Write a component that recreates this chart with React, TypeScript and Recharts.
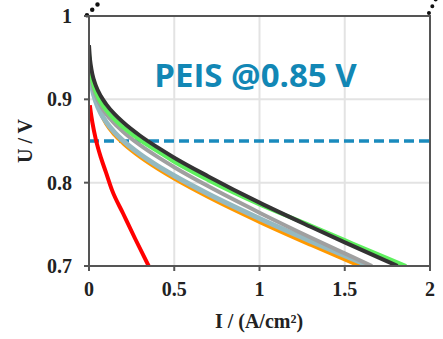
import { LineChart, Line, XAxis, YAxis, CartesianGrid, ReferenceLine, ReferenceArea } from 'recharts';

// current density (A/cm²) and cell voltage (V) per curve
const darkI = [0, 0.005, 0.01, 0.02, 0.04, 0.07, 0.1, 0.15, 0.2, 0.3, 0.4, 0.5, 0.7, 1.0, 1.3, 1.5, 1.7, 1.81];
const darkU = [0.965, 0.95, 0.9415, 0.93, 0.9165, 0.9036, 0.8943, 0.8822, 0.8725, 0.8563, 0.8426, 0.83, 0.8075, 0.776, 0.7471, 0.7284, 0.71, 0.7];

const greenI = [0, 0.005, 0.01, 0.02, 0.04, 0.07, 0.1, 0.15, 0.2, 0.3, 0.4, 0.5, 0.7, 1.0, 1.3, 1.5, 1.7, 1.86];
const greenU = [0.955, 0.9408, 0.9324, 0.9215, 0.9084, 0.8959, 0.887, 0.8756, 0.8664, 0.851, 0.838, 0.825, 0.803, 0.774, 0.7485, 0.731, 0.7136, 0.7];

const greyI = [0, 0.005, 0.01, 0.02, 0.04, 0.07, 0.1, 0.15, 0.2, 0.3, 0.4, 0.5, 0.7, 1.0, 1.3, 1.5, 1.66];
const greyU = [0.952, 0.9377, 0.9292, 0.9181, 0.9046, 0.892, 0.8827, 0.8709, 0.8612, 0.845, 0.8312, 0.8186, 0.7956, 0.764, 0.7342, 0.7151, 0.7];

const blueI = [0, 0.005, 0.01, 0.02, 0.04, 0.07, 0.1, 0.15, 0.2, 0.3, 0.4, 0.5, 0.7, 1.0, 1.3, 1.645];
const blueU = [0.951, 0.9345, 0.9247, 0.912, 0.897, 0.883, 0.873, 0.8604, 0.8504, 0.834, 0.8204, 0.8083, 0.7864, 0.757, 0.7298, 0.7];

const orangeI = [0, 0.005, 0.01, 0.02, 0.04, 0.07, 0.1, 0.15, 0.2, 0.3, 0.4, 0.5, 0.7, 1.0, 1.3, 1.5, 1.59];
const orangeU = [0.948, 0.935, 0.928, 0.915, 0.899, 0.883, 0.871, 0.8575, 0.8474, 0.831, 0.8173, 0.805, 0.7828, 0.753, 0.7255, 0.7078, 0.7];

const redI = [0.005, 0.01, 0.02, 0.04, 0.07, 0.1, 0.135, 0.2, 0.27, 0.35];
const redU = [0.893, 0.885, 0.872, 0.852, 0.83, 0.812, 0.791, 0.763, 0.733, 0.7];

const xTicks = [0, 0.5, 1, 1.5, 2];
const yTicks = [0.7, 0.8, 0.9, 1];
const peisVoltage = 0.85;

const toPoints = (xs: number[], ys: number[]) => xs.map((i, k) => ({ i, u: ys[k] }));

const series = [
  { name: 'orange', color: '#ff9900', width: 4, data: toPoints(orangeI, orangeU) },
  { name: 'blue', color: '#95b9c0', width: 5, data: toPoints(blueI, blueU) },
  { name: 'grey', color: '#a0a0a0', width: 4, data: toPoints(greyI, greyU) },
  { name: 'green', color: '#5ef05e', width: 4, data: toPoints(greenI, greenU) },
  { name: 'dark', color: '#333333', width: 4, data: toPoints(darkI, darkU) },
  { name: 'red', color: '#ff0000', width: 4, data: toPoints(redI, redU) },
];

const serif = '"Liberation Serif", "Times New Roman", serif';
const tickStyle = { fontFamily: serif, fontWeight: 700, fontSize: 20, fill: '#222' };

export default function App() {
  return (
    <div style={{ position: 'absolute', left: 0, top: 0, background: '#fff' }}>
      <LineChart width={443} height={339} margin={{ top: 16, right: 13, left: 0, bottom: 0 }}>
        <CartesianGrid stroke="#e3e3e3" strokeWidth={2} />
        <XAxis
          type="number"
          dataKey="i"
          domain={[0, 2]}
          ticks={xTicks}
          allowDataOverflow
          height={73}
          tickSize={5}
          tickMargin={11}
          tick={tickStyle}
          axisLine={{ stroke: '#555', strokeWidth: 2 }}
          tickLine={{ stroke: '#555', strokeWidth: 2 }}
          label={() => (
            <text x={259} y={328} textAnchor="middle" style={{ fontFamily: serif, fontWeight: 700, fontSize: 20, fill: '#222' }}>
              I / (A/cm²)
            </text>
          )}
        />
        <YAxis
          type="number"
          dataKey="u"
          domain={[0.7, 1]}
          ticks={yTicks}
          allowDataOverflow
          width={89}
          tickSize={5}
          tickMargin={12}
          tick={tickStyle}
          axisLine={{ stroke: '#555', strokeWidth: 2 }}
          tickLine={{ stroke: '#555', strokeWidth: 2 }}
          label={() => (
            <text
              x={25}
              y={141}
              transform="rotate(-90 25 141)"
              textAnchor="middle"
              dominantBaseline="central"
              style={{ fontFamily: serif, fontWeight: 700, fontSize: 20, fill: '#222' }}
            >
              U / V
            </text>
          )}
        />
        <ReferenceArea
          x1={0}
          x2={2}
          y1={0.7}
          y2={1}
          fill="none"
          fillOpacity={0}
          stroke="#555"
          strokeWidth={2}
          label={(props: any) => {
            const vb = props.viewBox || { x: 89, y: 16, width: 341 };
            return (
              <text
                x={vb.x + vb.width / 2 - 4}
                y={vb.y + 71}
                textAnchor="middle"
                style={{ fontFamily: '"Open Sans", sans-serif', fontWeight: 700, fontSize: 33, fill: '#1287b5' }}
              >
                PEIS @0.85 V
              </text>
            );
          }}
        />
        <ReferenceLine y={peisVoltage} stroke="#1a8bbd" strokeWidth={3.5} strokeDasharray="10 5" />
        <ReferenceLine
          segment={[{ x: -0.012, y: 1.001 }, { x: 0.07, y: 1.018 }]}
          ifOverflow="visible"
          stroke="#111"
          strokeWidth={4.5}
          strokeLinecap="round"
          strokeDasharray="0 7.5"
        />
        <ReferenceLine
          segment={[{ x: 1.994, y: 1.0037 }, { x: 2.035, y: 1.0205 }]}
          ifOverflow="visible"
          stroke="#111"
          strokeWidth={4}
          strokeLinecap="round"
          strokeDasharray="0 7.5"
        />
        {series.map((s) => (
          <Line
            key={s.name}
            data={s.data}
            dataKey="u"
            type="monotone"
            stroke={s.color}
            strokeWidth={s.width}
            dot={false}
            activeDot={false}
            isAnimationActive={false}
          />
        ))}
      </LineChart>
    </div>
  );
}
